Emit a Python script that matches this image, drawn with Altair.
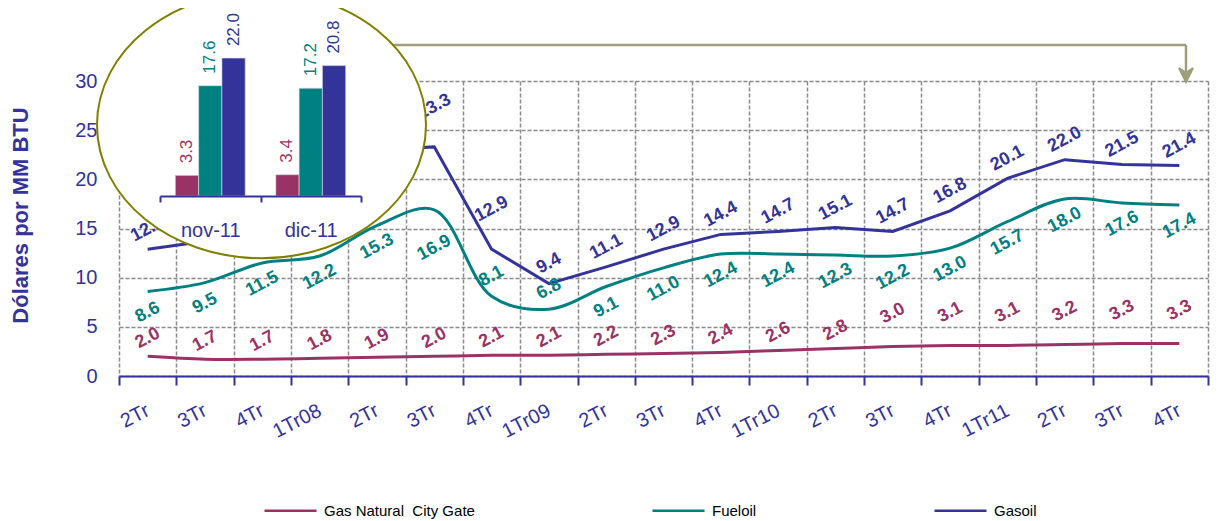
import json
import math
import altair as alt
import pandas as pd

# ---------------- data ----------------
QUARTERS = ["2Tr", "3Tr", "4Tr", "1Tr08", "2Tr", "3Tr", "4Tr", "1Tr09", "2Tr", "3Tr",
            "4Tr", "1Tr10", "2Tr", "3Tr", "4Tr", "1Tr11", "2Tr", "3Tr", "4Tr"]
SERIES = ["Gas Natural\u00a0 City Gate", "Fueloil", "Gasoil"]
GAS_NATURAL = [2.0, 1.7, 1.7, 1.8, 1.9, 2.0, 2.1, 2.1, 2.2, 2.3, 2.4, 2.6, 2.8, 3.0, 3.1, 3.1, 3.2, 3.3, 3.3]
FUELOIL = [8.6, 9.5, 11.5, 12.2, 15.3, 16.9, 8.1, 6.8, 9.1, 11.0, 12.4, 12.4, 12.3, 12.2, 13.0, 15.7, 18.0, 17.6, 17.4]
GASOIL = [12.9, 13.7, 16.0, 18.6, 23.0, 23.3, 12.9, 9.4, 11.1, 12.9, 14.4, 14.7, 15.1, 14.7, 16.8, 20.1, 22.0, 21.5, 21.4]

INSET_MONTHS = ["nov-11", "dic-11"]
INSET_GAS_NATURAL = [3.3, 3.4]
INSET_FUELOIL = [17.6, 17.2]
INSET_GASOIL = [22.0, 20.8]

# label placement flags (style)
GAS_LABEL_PLACE = ["near"] * 13 + ["far"] * 6
FUEL_LABEL_PLACE = ["below"] * 5 + ["farbelow", "above", "above"] + ["below"] * 11
GASOIL_LABEL_PLACE = ["above"] * 5 + ["farabove", "farabove"] + ["above"] * 12

# ---------------- style ----------------
FONT = "Liberation Sans"
NAVY = "#333399"
TEAL = "#008080"
MAROON = "#993366"
GRID = "#8a8a8a"
OLIVE = "#808000"
KHAKI = "#9e9e7c"
COLORS = [MAROON, TEAL, NAVY]
LABEL_ANGLE = -28

PLACE_OFFSETS = {"near": -18, "far": -33, "below": 21, "farbelow": 38, "above": -20, "farabove": -40}


def rot_offset(page_dy, angle_deg):
    th = math.radians(angle_deg)
    return math.sin(th) * page_dy, math.cos(th) * page_dy


def series_df(name, values, places):
    return pd.DataFrame({"idx": list(range(len(values))), "series": name,
                         "value": values, "place": places})


gas_df = series_df(SERIES[0], GAS_NATURAL, GAS_LABEL_PLACE)
fuel_df = series_df(SERIES[1], FUELOIL, FUEL_LABEL_PLACE)
gasoil_df = series_df(SERIES[2], GASOIL, GASOIL_LABEL_PLACE)

X = alt.X(
    "idx:O",
    scale=alt.Scale(paddingInner=0, paddingOuter=0),
    axis=alt.Axis(
        title=None,
        labelExpr=json.dumps(QUARTERS) + "[datum.value]",
        labelAngle=333, labelAlign="right", labelBaseline="middle",
        labelFontSize=20, labelFont=FONT, labelColor=NAVY, labelPadding=24,
        labelOverlap=False,
        tickBand="extent", tickSize=9, tickColor=NAVY, tickWidth=2,
        domainColor=NAVY, domainWidth=2,
        grid=True, gridColor=GRID, gridDash=[4, 2], gridWidth=1.5,
    ),
)
Y = alt.Y(
    "value:Q",
    scale=alt.Scale(domain=[0, 30], nice=False),
    axis=alt.Axis(
        values=list(range(0, 31, 5)),
        title="Dólares por MM BTU", titleFont=FONT, titleFontSize=22, titleFontWeight="bold",
        titleColor=NAVY, titleAngle=270, titleAlign="center", titleBaseline="middle",
        titleX=-99, titleY=134,
        domain=False, ticks=False,
        labelFontSize=20, labelFont=FONT, labelColor=NAVY, labelPadding=22,
        grid=True, gridColor=GRID, gridDash=[4, 2], gridWidth=1.5,
    ),
)
COLOR = alt.Color(
    "series:N",
    scale=alt.Scale(domain=SERIES, range=COLORS),
    legend=alt.Legend(
        orient="none", legendX=144, legendY=402, direction="horizontal", columns=3,
        columnPadding=172, symbolType="stroke", symbolSize=2704, symbolStrokeWidth=2.5,
        labelFontSize=15, labelFont=FONT, labelColor="black", labelOffset=6,
        title=None, padding=0,
    ),
)


def line_layer(df, interp):
    return alt.Chart(df).mark_line(interpolate=interp, strokeWidth=3).encode(x=X, y=Y, color=COLOR)


def label_layers(df, color, places):
    layers = []
    for p in places:
        dx, dy = rot_offset(PLACE_OFFSETS[p], LABEL_ANGLE)
        layers.append(
            alt.Chart(df).transform_filter(alt.datum.place == p).mark_text(
                angle=360 + LABEL_ANGLE, fontSize=18, fontWeight="bold", font=FONT,
                color=color, align="center", baseline="middle", dx=dx, dy=dy,
            ).encode(x=X, y=Y, text=alt.Text("value:Q", format=".1f"))
        )
    return layers


main = alt.layer(
    line_layer(gas_df, "catmull-rom"),
    line_layer(fuel_df, "catmull-rom"),
    line_layer(gasoil_df, "linear"),
    *label_layers(gas_df, MAROON, ["near", "far"]),
    *label_layers(fuel_df, TEAL, ["below", "farbelow", "above"]),
    *label_layers(gasoil_df, NAVY, ["above", "farabove"]),
)

# ---------------- decorations (connector + ellipse) ----------------
one = pd.DataFrame({"k": [0]})
conn_h = alt.Chart(one).mark_rule(color=KHAKI, strokeWidth=2.5).encode(
    x=alt.value(181), x2=alt.value(1067), y=alt.value(-36))
conn_v = alt.Chart(one).mark_rule(color=KHAKI, strokeWidth=2.5).encode(
    x=alt.value(1067), y=alt.value(-36), y2=alt.value(-6))
arrow = alt.Chart(one).mark_point(
    shape="M -1 -1 L 0 1 L 1 -1 L 0 -0.3 Z", filled=True, size=196,
    fill=KHAKI, stroke=KHAKI, opacity=1).encode(x=alt.value(1067), y=alt.value(-6))
ELLIPSE = "M -1 0 A 1 0.81 0 1 0 1 0 A 1 0.81 0 1 0 -1 0 Z"
ellipse = alt.Chart(one).mark_point(
    shape=ELLIPSE, size=(2 * 164.5) ** 2, filled=True, fill="white", stroke=OLIVE,
    strokeWidth=2, opacity=1, fillOpacity=1, strokeOpacity=1,
).encode(x=alt.value(142.5), y=alt.value(44))

# ---------------- inset bars ----------------
inset_rows = []
for m_i, m in enumerate(INSET_MONTHS):
    for s, vals in zip(SERIES, [INSET_GAS_NATURAL, INSET_FUELOIL, INSET_GASOIL]):
        inset_rows.append({"month": m, "series": s, "value": vals[m_i]})
inset_df = pd.DataFrame(inset_rows)

IX = alt.X(
    "month:N",
    scale=alt.Scale(domain=INSET_MONTHS, range=[41, 242], paddingInner=0, paddingOuter=0),
    axis=alt.Axis(
        orient="bottom", offset=-180, title=None, grid=False, zindex=1,
        domainColor=NAVY, domainWidth=2, tickColor=NAVY, tickWidth=2, tickSize=6,
        tickBand="extent", labelAngle=0, labelColor=NAVY, labelFontSize=20,
        labelFont=FONT, labelPadding=18,
    ),
)
IY = alt.Y("value:Q", scale=alt.Scale(domain=[0, 22], range=[115, -22.9], nice=False), axis=None)
IXO = alt.XOffset("series:N", scale=alt.Scale(domain=SERIES, paddingInner=0, paddingOuter=0.656))
ICOLOR = alt.Color("series:N", scale=alt.Scale(domain=SERIES, range=COLORS), legend=None)

inset_bars = alt.Chart(inset_df).mark_bar(stroke="#e0e0f0", strokeWidth=0.6).encode(
    x=IX, y=IY, xOffset=IXO, color=ICOLOR)
inset_text = alt.Chart(inset_df).mark_text(
    angle=270, align="left", baseline="middle", dx=12, fontSize=17, font=FONT,
).encode(x=IX, y=IY, xOffset=IXO, color=ICOLOR, text=alt.Text("value:Q", format=".1f"))
inset = alt.layer(inset_bars, inset_text)

chart = alt.layer(main, conn_h, conn_v, arrow, ellipse, inset).resolve_scale(
    x="independent", y="independent", color="independent"
).properties(
    width=1089, height=295,
    autosize=alt.AutoSizeParams(type="none"),
    padding={"left": 111, "top": 73, "right": 3, "bottom": 145},
).configure_view(stroke=None)

chart.save("out.html", embed_options={"renderer": "svg", "actions": False})
